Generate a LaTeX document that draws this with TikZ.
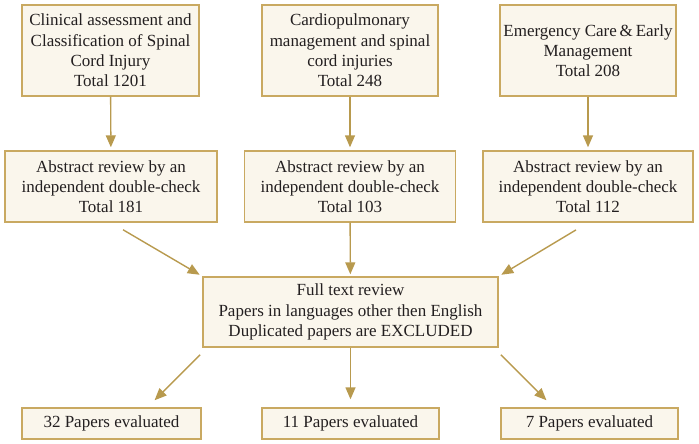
\documentclass[tikz,border=0pt]{standalone}
\usepackage{fontspec}
\setmainfont{Liberation Serif}
\usetikzlibrary{arrows.meta}
\definecolor{boxline}{HTML}{C9A961}
\definecolor{boxfill}{HTML}{FAF6EC}
\definecolor{arrowcol}{HTML}{B89A4E}
\definecolor{textcol}{HTML}{231F20}
\begin{document}
\begin{tikzpicture}[x=1pt, y=-1pt,
    box/.style={draw=boxline, fill=boxfill, line width=1.4pt, align=center,
        inner sep=0pt, text=textcol, font=\fontsize{17}{20.3}\selectfont},
    arrow/.style={draw=arrowcol, line width=1.4pt, -{Triangle[length=12pt, width=10pt]}}]
    \useasboundingbox (0,0) rectangle (699,444);

    % --- Fonti (riga superiore) ---
    \node[box, minimum width=177pt, minimum height=91pt] (clin) at (110.5,50.5)
        {Clinical assessment and\\Classification of Spinal\\Cord Injury\\Total 1201};
    \node[box, minimum width=176pt, minimum height=91pt] (cardio) at (350,50.5)
        {Cardiopulmonary\\management and spinal\\cord injuries\\Total 248};
    \node[box, minimum width=176pt, minimum height=91pt] (emerg) at (588,50.5)
        {Emergency Care\,\&\,Early\\Management\\Total 208};

    % --- Revisione degli abstract ---
    \node[box, minimum width=212pt, minimum height=71pt] (absa) at (111,186.5)
        {Abstract review by an\\independent double-check\\Total 181};
    \node[box, minimum width=211pt, minimum height=71pt] (absb) at (350,186.5)
        {Abstract review by an\\independent double-check\\Total 103};
    \node[box, minimum width=210pt, minimum height=71pt] (absc) at (588,186.5)
        {Abstract review by an\\independent double-check\\Total 112};

    % --- Revisione del testo completo ---
    \node[box, minimum width=295pt, minimum height=70pt] (full) at (350.5,312)
        {Full text review\\Papers in languages other then English\\Duplicated papers are EXCLUDED};

    % --- Risultati ---
    \node[box, minimum width=179pt, minimum height=31pt] (resa) at (111.5,423.5) {32 Papers evaluated};
    \node[box, minimum width=177pt, minimum height=31pt] (resb) at (350.5,423.5) {11 Papers evaluated};
    \node[box, minimum width=177pt, minimum height=31pt] (resc) at (589.5,423.5) {7 Papers evaluated};

    % --- Frecce ---
    \draw[arrow, shorten >=3pt] (clin) -- (absa);
    \draw[arrow, shorten >=3pt] (cardio) -- (absb);
    \draw[arrow, shorten >=3pt] (emerg) -- (absc);

    \draw[arrow, shorten <=14pt, shorten >=3pt] (absa.south) -- (full.north west);
    \draw[arrow, shorten >=2pt] (absb) -- (full);
    \draw[arrow, shorten <=14pt, shorten >=3pt] (absc.south) -- (full.north east);

    \draw[arrow, shorten <=10pt, shorten >=10pt] ([xshift=5pt]full.south west) -- ([xshift=36pt]resa.north);
    \draw[arrow, shorten >=8pt] (full) -- (resb);
    \draw[arrow, shorten <=10pt, shorten >=10pt] ([xshift=-5pt]full.south east) -- ([xshift=-36pt]resc.north);
\end{tikzpicture}
\end{document}
